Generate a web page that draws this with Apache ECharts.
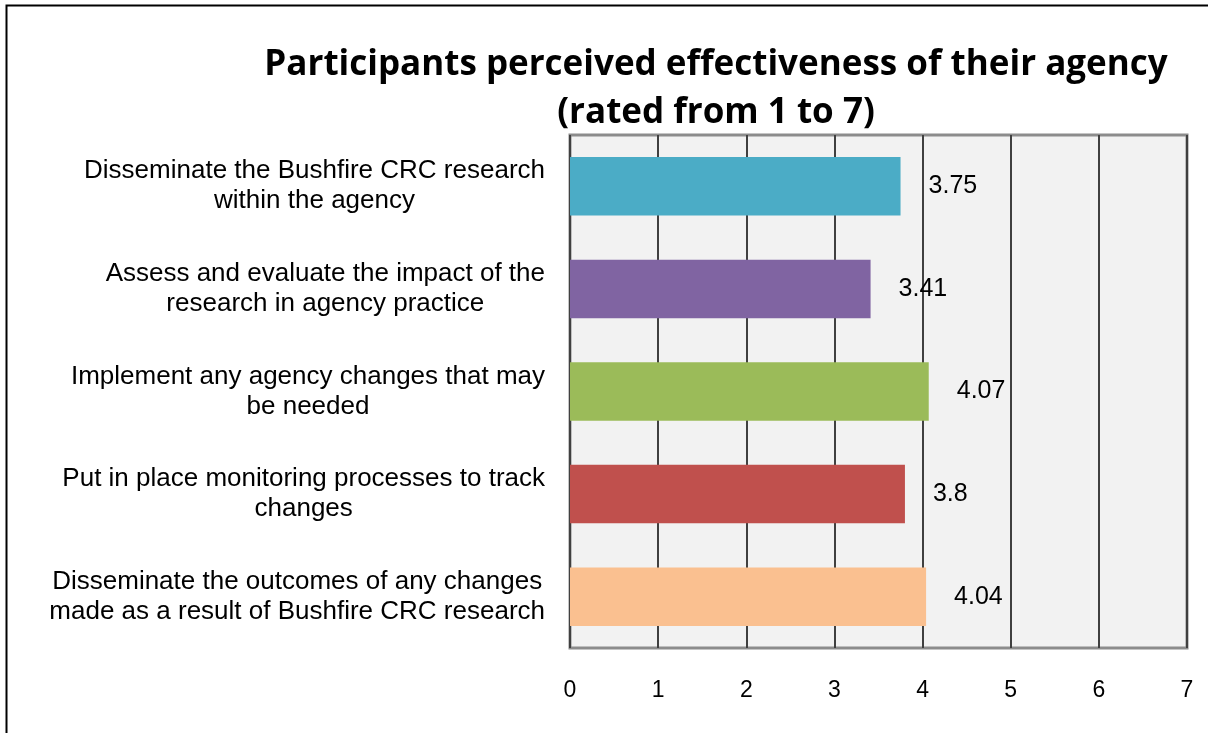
<!DOCTYPE html>
<html>
<head>
<meta charset="utf-8">
<script src="https://cdn.jsdelivr.net/npm/echarts@6/dist/echarts.min.js"></script>
<style>
  html, body { margin: 0; padding: 0; background: #fff; }
  #main { width: 1208px; height: 733px; }
</style>
</head>
<body>
<div id="main"></div>
<script>
// categories top to bottom
var categories = [
  'Disseminate the Bushfire CRC research\nwithin the agency',
  'Assess and evaluate the impact of the\nresearch in agency practice',
  'Implement any agency changes that may\nbe needed',
  'Put in place monitoring processes to track\nchanges',
  'Disseminate the outcomes of any changes\nmade as a result of Bushfire CRC research'
];
var values = [3.75, 3.41, 4.07, 3.8, 4.04];
var barColors = ['#4bacc6', '#8064a2', '#9bbb59', '#c0504d', '#fac090'];
var xTicks = [0, 1, 2, 3, 4, 5, 6, 7];

var chartDom = document.getElementById('main');
var myChart = echarts.init(chartDom);
var option;

var barData = values.map(function (v, i) {
  return { value: v, itemStyle: { color: barColors[i] } };
});

var labelFont = {
  color: '#000',
  fontFamily: 'Liberation Sans',
  fontSize: 26,
  lineHeight: 30
};

option = {
  animation: false,
  title: {
    text: 'Participants perceived effectiveness of their agency\n(rated from 1 to 7)',
    left: 711,
    top: 36,
    textAlign: 'center',
    textStyle: {
      fontFamily: 'Open Sans',
      fontWeight: 'bold',
      fontSize: 35,
      lineHeight: 48,
      color: '#000'
    }
  },
  graphic: [
    {
      type: 'rect',
      shape: { x: 6.5, y: 5.5, width: 1210, height: 740 },
      style: { fill: 'none', stroke: '#000', lineWidth: 2 },
      silent: true
    }
  ],
  grid: {
    left: 570,
    right: 21,
    top: 135,
    bottom: 85,
    show: true,
    backgroundColor: '#f2f2f2',
    borderColor: '#8c8c8c',
    borderWidth: 3
  },
  xAxis: {
    type: 'value',
    min: 0,
    max: 7,
    interval: 1,
    axisLine: { show: false },
    axisTick: { show: false },
    splitLine: { show: true, lineStyle: { color: '#404040', width: 2 } },
    axisLabel: {
      color: '#000',
      fontFamily: 'Liberation Sans',
      fontSize: 23,
      margin: 31,
      formatter: function (v) { return xTicks.indexOf(v) >= 0 ? String(v) : ''; }
    }
  },
  yAxis: {
    type: 'category',
    inverse: true,
    data: categories,
    axisLine: { show: false },
    axisTick: { show: false },
    axisLabel: {
      color: '#000',
      fontFamily: 'Liberation Sans',
      fontSize: 26,
      lineHeight: 30,
      align: 'right',
      margin: 25,
      // center each line within the label block
      formatter: function (v) {
        return v.split('\n').map(function (s) { return '{c|' + s + '}'; }).join('\n');
      },
      rich: {
        c: Object.assign({ align: 'center' }, labelFont)
      }
    }
  },
  series: [
    {
      type: 'bar',
      data: barData,
      barWidth: '57%',
      label: {
        show: true,
        position: 'right',
        distance: 28,
        color: '#000',
        fontFamily: 'Liberation Sans',
        fontSize: 25
      }
    }
  ]
};

option && myChart.setOption(option);
</script>
</body>
</html>
